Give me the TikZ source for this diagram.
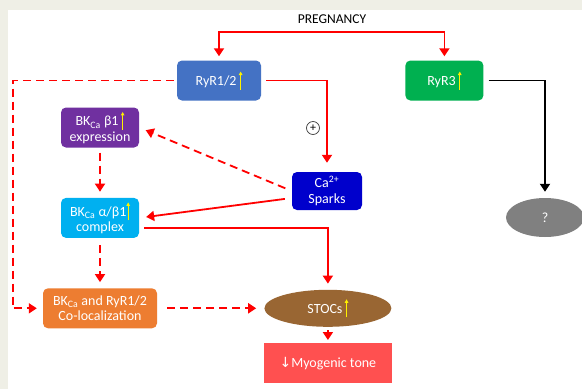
\documentclass[tikz,border=0pt]{standalone}
\usepackage{fontspec}
\setmainfont{Carlito}
\newfontfamily\symfont{DejaVu Sans}
\usetikzlibrary{positioning,arrows.meta,shapes.geometric}
\definecolor{bgbeige}{RGB}{239,239,230}
\definecolor{ryrblue}{RGB}{68,114,196}
\definecolor{ryrgreen}{RGB}{0,176,80}
\definecolor{betapurple}{RGB}{112,48,160}
\definecolor{cplxcyan}{RGB}{0,176,240}
\definecolor{sparkblue}{RGB}{0,0,204}
\definecolor{colocorange}{RGB}{237,125,49}
\definecolor{stocbrown}{RGB}{153,102,51}
\definecolor{tonered}{RGB}{255,80,80}
\definecolor{qgray}{RGB}{128,128,128}
\definecolor{linered}{RGB}{255,0,0}
\tikzset{
  pathbox/.style={draw=none,rounded corners=5pt,align=center,text=white,inner sep=2pt,minimum height=40pt,font=\fontsize{14}{15.5}\selectfont},
  pathoval/.style={ellipse,inner sep=0pt,align=center,text=white,font=\fontsize{14}{15.5}\selectfont},
  redarr/.style={-{Triangle[length=8pt,width=10pt]},line width=1.8pt,linered,shorten >=4pt,shorten <=5pt},
  reddash/.style={redarr,dash pattern=on 8pt off 5pt},
  blackarr/.style={redarr,black},
  plusmark/.style={circle,draw=black!75,line width=.7pt,inner sep=0pt,minimum size=13pt,font=\fontsize{12}{12}\selectfont}
}
\newcommand{\upar}{\tikz[baseline=0pt]\draw[yellow,line width=1.2pt,-{Triangle[length=3.5pt,width=3.5pt]}] (0pt,-4pt) -- (0pt,14pt);}

\begin{document}
\begin{tikzpicture}[x=1pt,y=-1pt]
  \fill[bgbeige] (0,0) rectangle (582,389);
  \fill[white] (8,10) rectangle (582,389);
  \path[use as bounding box] (0,0) rectangle (582,389);

  \node[font=\fontsize{13.5}{15}\selectfont] (preg) at (332,19) {PREGNANCY};
  \coordinate (split) at (332,32);
  \node[pathbox,fill=ryrblue,minimum width=84pt] (ryr12) at (219,80.5) {RyR1/2\,\upar};
  \node[pathbox,fill=ryrgreen,minimum width=78pt,right=144pt of ryr12] (ryr3) {RyR3\,\upar};
  \node[pathbox,fill=betapurple,minimum width=78pt] (beta) at (100,127.5) {BK\textsubscript{Ca} β1\,\upar\\expression};
  \node[pathbox,fill=cplxcyan,minimum width=78pt,below=50pt of beta] (cplx) {BK\textsubscript{Ca} α/β1\upar\\complex};
  \node[pathbox,fill=colocorange,minimum width=114pt,below=50pt of cplx] (coloc) {BK\textsubscript{Ca} and RyR1/2\\Co-localization};
  \node[pathbox,fill=sparkblue,minimum width=70pt,minimum height=38pt] (ca) at (327,191) {Ca\textsuperscript{2+}\\Sparks};
  \node[plusmark] (plus) at (313,128) {+};
  \node[pathoval,fill=stocbrown,minimum width=127pt,minimum height=37pt,right=107pt of coloc] (stocs) {STOCs\,\upar};
  \node[pathbox,rounded corners=0pt,fill=tonered,minimum width=128pt,below=16pt of stocs] (myo) {{\symfont ↓}Myogenic tone};
  \node[pathoval,fill=qgray,minimum width=78pt,minimum height=39pt] (qmark) at (545,217.5) {?};

  \draw[redarr,shorten <=0pt] (split) -| (ryr12.north);
  \draw[redarr,shorten <=0pt] (split) -| (ryr3.north);
  \draw[redarr,shorten >=9pt] (ryr12.east) -| (ca.north);
  \draw[reddash,shorten >=7pt,shorten <=7pt] (ca.west) -- (beta.east);
  \draw[redarr,shorten >=7pt,shorten <=7pt] ([yshift=-7pt]ca.west) -- (cplx.east);
  \draw[reddash,shorten >=6pt] (beta) -- (cplx);
  \draw[redarr,shorten >=6pt] ([yshift=-10pt]cplx.east) -| (stocs.north);
  \draw[reddash,shorten >=6pt,shorten <=7pt] (cplx) -- (coloc);
  \draw[reddash,shorten >=6pt,shorten <=3pt] (ryr12.west) -| ([xshift=-30pt]coloc.west) -- (coloc.west);
  \draw[reddash,shorten >=8pt,shorten <=10pt] (coloc) -- (stocs);
  \draw[redarr,shorten >=3pt,shorten <=3pt] (stocs) -- (myo);
  \draw[blackarr,shorten >=6pt] (ryr3.east) -| (qmark.north);
\end{tikzpicture}
\end{document}
